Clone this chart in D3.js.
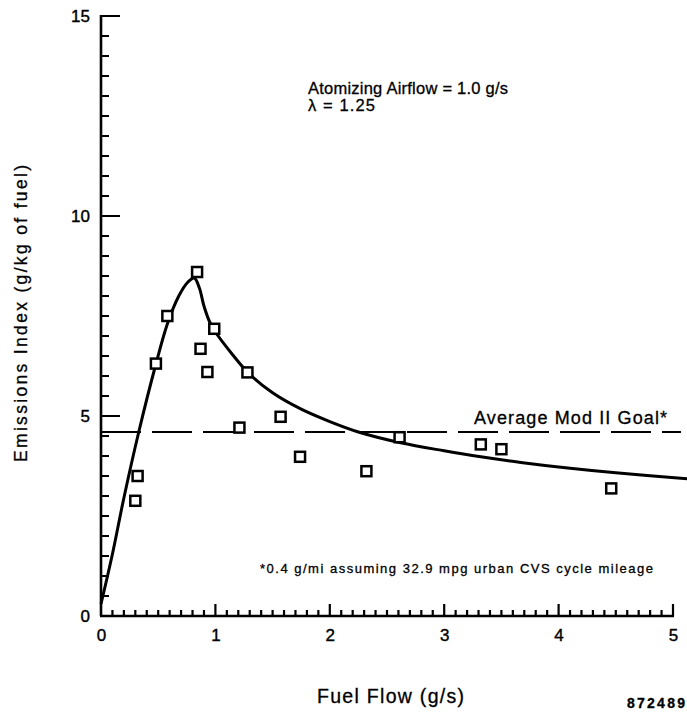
<!DOCTYPE html>
<html>
<head>
<meta charset="utf-8">
<script src="https://cdn.jsdelivr.net/npm/d3@7"></script>
<style>
  html, body { margin: 0; padding: 0; background: #fff; }
  svg { display: block; font-family: "Liberation Sans", Arial, Helvetica, sans-serif; }
</style>
</head>
<body>
<div id="chart"></div>
<script>
// ---- Data ----
const fuelFlow       = [0.30, 0.32, 0.48, 0.58, 0.84, 0.87, 0.93, 0.99, 1.21, 1.28, 1.57, 1.74, 2.32, 2.61, 3.32, 3.50, 4.46];
const emissionsIndex = [2.88, 3.50, 6.31, 7.50, 8.60, 6.68, 6.10, 7.18, 4.71, 6.09, 4.98, 3.98, 3.62, 4.47, 4.29, 4.17, 3.19];

// Fitted curve drawn in the figure (knots)
const curveFlow  = [0, 0.10, 0.20, 0.33, 0.48, 0.58, 0.68, 0.76, 0.815, 0.86, 0.90, 0.95, 1.00, 1.14, 1.28, 1.50, 1.75, 2.00, 2.25, 2.62, 3.00, 3.32, 3.67, 4.08, 4.50, 5.13];
const curveIndex = [0.30, 1.55, 2.95, 4.60, 6.30, 7.30, 8.00, 8.35, 8.45, 8.20, 7.75, 7.35, 7.10, 6.57, 6.10, 5.58, 5.17, 4.86, 4.60, 4.33, 4.13, 3.98, 3.84, 3.70, 3.58, 3.43];

const goalValue = 4.6;            // Average Mod II Goal
const goalExtent = [0, 5.07];

const xTickLabels = [0, 1, 2, 3, 4, 5];
const yTickLabels = [0, 5, 10, 15];

const titleLine1 = "Atomizing Airflow = 1.0 g/s";
const titleLine2 = "\u03bb = 1.25";
const goalLabel = "Average Mod II Goal*";
const footnote = "*0.4 g/mi assuming 32.9 mpg urban CVS cycle mileage";
const xTitle = "Fuel Flow (g/s)";
const yTitle = "Emissions Index (g/kg of fuel)";
const figId = "872489";

// ---- Layout ----
const W = 687, H = 713;
const m = { left: 101, top: 16 };
const pw = 572, ph = 600;

const svg = d3.select("#chart").append("svg").attr("width", W).attr("height", H);
const g = svg.append("g").attr("transform", `translate(${m.left},${m.top})`);

const x = d3.scaleLinear().domain([0, 5]).range([0, pw]);
const y = d3.scaleLinear().domain([0, 15]).range([ph, 0]);

// ---- Ticks pointing inward (built from the scales) ----
const yTicks = d3.range(1, 31).map(i => i * 0.5);               // 0.5 .. 15
const xTicks = d3.range(1, 51).map(i => +(i * 0.1).toFixed(1)); // 0.1 .. 5
const isMajorY = v => Math.abs(v % 5) < 1e-6;
const isMajorX = v => Math.abs(v - Math.round(v)) < 1e-6;

// axis lines
g.append("line").attr("x1", x(0)).attr("x2", x(0)).attr("y1", y(15) - 1).attr("y2", y(0))
  .attr("stroke", "#000").attr("stroke-width", 2.6);
g.append("line").attr("x1", x(0) - 1).attr("x2", x(5) + 1).attr("y1", y(0)).attr("y2", y(0))
  .attr("stroke", "#000").attr("stroke-width", 2.6);

// tick marks drawn after the axis lines
const tickPath = d3.path();
yTicks.forEach(v => { tickPath.moveTo(x(0), y(v)); tickPath.lineTo(x(0) + (isMajorY(v) ? 19 : 8), y(v)); });
xTicks.forEach(v => { tickPath.moveTo(x(v), y(0)); tickPath.lineTo(x(v), y(0) - (isMajorX(v) ? 12 : 6)); });
g.append("path").attr("d", tickPath.toString())
  .attr("fill", "none").attr("stroke", "#000").attr("stroke-width", 2.2);

// tick labels
function styleLabels(sel) {
  sel.select(".domain").remove();
  sel.selectAll("text").attr("font-size", 17).attr("fill", "#000")
    .attr("stroke", "#000").attr("stroke-width", 0.4)
    .attr("font-family", "Liberation Sans, Arial, sans-serif");
}
g.append("g")
  .call(d3.axisLeft(y).tickValues(yTickLabels).tickSize(0).tickPadding(11).tickFormat(d3.format("d")))
  .call(styleLabels);
g.append("g").attr("transform", `translate(0,${ph})`)
  .call(d3.axisBottom(x).tickValues(xTickLabels).tickSize(0).tickPadding(13).tickFormat(d3.format("d")))
  .call(styleLabels);

// ---- Goal dashed line ----
g.append("line")
  .attr("x1", x(goalExtent[0])).attr("x2", x(goalExtent[1]))
  .attr("y1", y(goalValue)).attr("y2", y(goalValue))
  .attr("stroke", "#000").attr("stroke-width", 1.9)
  .attr("stroke-dasharray", "40,11");

// ---- Fitted curve ----
const curvePts = curveFlow.map((v, i) => [v, curveIndex[i]]);
g.append("path")
  .datum(curvePts)
  .attr("fill", "none").attr("stroke", "#000").attr("stroke-width", 3)
  .attr("stroke-linejoin", "round")
  .attr("d", d3.line().x(d => x(d[0])).y(d => y(d[1])).curve(d3.curveCatmullRom.alpha(0.5)));

// ---- Data squares ----
const pts = fuelFlow.map((v, i) => ({ fx: v, ei: emissionsIndex[i] }));
const s = 10;
g.selectAll("rect.pt").data(pts).enter().append("rect")
  .attr("class", "pt")
  .attr("x", d => x(d.fx) - s / 2).attr("y", d => y(d.ei) - s / 2)
  .attr("width", s).attr("height", s)
  .attr("fill", "#fff").attr("stroke", "#000").attr("stroke-width", 2.5);

// ---- Annotations ----
function txt(str, xx, yy, size, len, weight) {
  const t = svg.append("text").attr("x", xx).attr("y", yy)
    .attr("font-size", size).attr("fill", "#000")
    .attr("stroke", "#000").attr("stroke-width", 0.3)
    .text(str);
  if (len) t.attr("textLength", len).attr("lengthAdjust", "spacing");
  if (weight) t.attr("font-weight", weight);
  return t;
}
txt(titleLine1, 308, 94, 16.5, 200);
txt(titleLine2, 308, 111, 16.5, 67);
txt(goalLabel, 474, 424, 18, 193);
txt(footnote, 260, 573, 13, 393);
txt(xTitle, 317, 703, 19.5, 147);
txt(figId, 627, 708, 14, 58, "bold");

svg.append("text")
  .attr("transform", `translate(27,${(165 + 462) / 2}) rotate(-90)`)
  .attr("text-anchor", "middle")
  .attr("font-size", 17.5).attr("fill", "#000")
  .attr("stroke", "#000").attr("stroke-width", 0.3)
  .attr("textLength", 297).attr("lengthAdjust", "spacing")
  .text(yTitle);
</script>
</body>
</html>
